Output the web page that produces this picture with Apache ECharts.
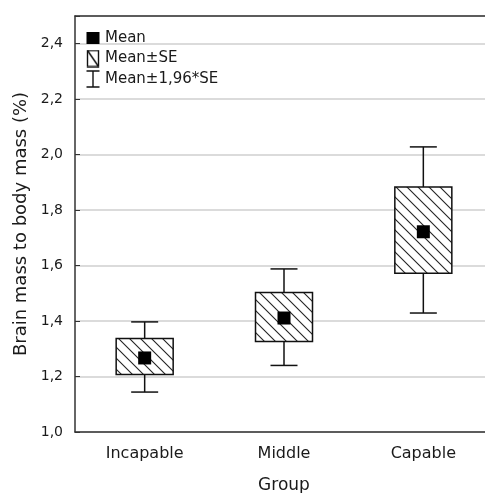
<!DOCTYPE html>
<html>
<head>
<meta charset="utf-8">
<script src="https://cdn.jsdelivr.net/npm/echarts@6/dist/echarts.min.js"></script>
<style>
  html, body { margin: 0; padding: 0; background: #fff; }
  #chart { width: 485px; height: 493px; }
</style>
</head>
<body>
<div id="chart"></div>
<script>
// values
const groups = ['Incapable', 'Middle', 'Capable'];
const means  = [1.267, 1.411, 1.722];
const seLow  = [1.207, 1.326, 1.572];
const seHigh = [1.337, 1.503, 1.883];
const ciLow  = [1.144, 1.240, 1.429];
const ciHigh = [1.397, 1.588, 2.028];
const legendNames = ['Mean', 'Mean±SE', 'Mean±1,96*SE'];

const FONT = 'DejaVu Sans';
const INK = '#1a1a1a';

// hatch pattern "\\\"
function makeHatch() {
  const s = 11;
  const c = document.createElement('canvas');
  c.width = s; c.height = s;
  const g = c.getContext('2d');
  g.fillStyle = '#fff';
  g.fillRect(0, 0, s, s);
  g.strokeStyle = '#222';
  g.lineWidth = 1.1;
  for (let o = -s; o <= s; o += s) {
    g.beginPath();
    g.moveTo(o - 1, -1);
    g.lineTo(o + s + 1, s + 1);
    g.stroke();
  }
  return c;
}
const hatch = makeHatch();

// legend icons
function icon(draw) {
  const c = document.createElement('canvas');
  c.width = 14; c.height = 18;
  const g = c.getContext('2d');
  g.strokeStyle = '#111';
  g.fillStyle = '#000';
  g.lineWidth = 1.4;
  draw(g);
  return 'image://' + c.toDataURL();
}
const iconMean = icon(g => { g.fillRect(0.5, 3, 13, 12); });
const iconSE = icon(g => {
  g.strokeRect(1.5, 1, 11, 16);
  g.beginPath(); g.moveTo(1.5, 1); g.lineTo(12.5, 17); g.stroke();
});
const iconCI = icon(g => {
  g.beginPath();
  g.moveTo(0.5, 1); g.lineTo(13.5, 1);
  g.moveTo(7, 1); g.lineTo(7, 17);
  g.moveTo(0.5, 17); g.lineTo(13.5, 17);
  g.stroke();
});

const chart = echarts.init(document.getElementById('chart'));

const option = {
  animation: false,
  backgroundColor: '#fff',
  grid: { left: 75, top: 16, width: 418, bottom: 61, containLabel: false, outerBoundsMode: 'none' },
  legend: {
    left: 81, top: 24, orient: 'vertical',
    itemWidth: 14, itemHeight: 18, itemGap: 2.5,
    textStyle: { fontFamily: FONT, fontSize: 15, color: INK },
    data: [
      { name: legendNames[0], icon: iconMean },
      { name: legendNames[1], icon: iconSE },
      { name: legendNames[2], icon: iconCI }
    ]
  },
  xAxis: [{
    type: 'category', data: groups, position: 'bottom',
    name: 'Group', nameLocation: 'middle', nameGap: 45,
    nameTextStyle: { fontFamily: FONT, fontSize: 17, color: INK },
    axisLine: { lineStyle: { color: '#333', width: 1.5 } },
    axisTick: { inside: true, alignWithLabel: true, length: 5, lineStyle: { color: '#333' } },
    axisLabel: { fontFamily: FONT, fontSize: 16, color: INK, margin: 14 },
    splitLine: { show: false }
  }, {
    type: 'category', data: groups, position: 'top',
    axisLine: { lineStyle: { color: '#333', width: 1.5 } },
    axisTick: { inside: true, alignWithLabel: true, length: 5, lineStyle: { color: '#333' } },
    axisLabel: { show: false },
    splitLine: { show: false }
  }],
  yAxis: {
    type: 'value', min: 1.0, max: 2.5, interval: 0.2,
    name: 'Brain mass to body mass (%)', nameLocation: 'middle', nameGap: 43,
    nameTextStyle: { fontFamily: FONT, fontSize: 18, color: INK },
    axisLine: { show: true, lineStyle: { color: '#333', width: 1.5 } },
    axisTick: { show: true, inside: true, length: 5, lineStyle: { color: '#333' } },
    axisLabel: {
      fontFamily: FONT, fontSize: 14, color: INK, margin: 12,
      formatter: v => (v > 2.45 ? '' : v.toFixed(1).replace('.', ','))
    },
    splitLine: { show: true, lineStyle: { color: '#cfcfcf', width: 1.5 } }
  },
  series: [
    {
      name: legendNames[2],
      type: 'custom',
      data: groups.map((g, i) => [i, ciLow[i], ciHigh[i], seLow[i], seHigh[i]]),
      renderItem: function (params, api) {
        const i = api.value(0);
        const top = api.coord([i, api.value(2)]);
        const bot = api.coord([i, api.value(1)]);
        const bTop = api.coord([i, api.value(4)]);
        const bBot = api.coord([i, api.value(3)]);
        const x = top[0], cap = 13.5;
        const st = { stroke: '#111', lineWidth: 1.5 };
        return {
          type: 'group',
          children: [
            { type: 'line', shape: { x1: x, y1: top[1], x2: x, y2: bTop[1] }, style: st },
            { type: 'line', shape: { x1: x - cap, y1: top[1], x2: x + cap, y2: top[1] }, style: st },
            { type: 'line', shape: { x1: x, y1: bBot[1], x2: x, y2: bot[1] }, style: st },
            { type: 'line', shape: { x1: x - cap, y1: bot[1], x2: x + cap, y2: bot[1] }, style: st }
          ]
        };
      },
      z: 2
    },
    {
      name: legendNames[1],
      type: 'custom',
      data: groups.map((g, i) => [i, seLow[i], seHigh[i]]),
      renderItem: function (params, api) {
        const i = api.value(0);
        const lo = api.coord([i, api.value(1)]);
        const hi = api.coord([i, api.value(2)]);
        const w = 57;
        return {
          type: 'rect',
          shape: { x: lo[0] - w / 2, y: hi[1], width: w, height: lo[1] - hi[1] },
          style: { fill: { type: 'pattern', image: hatch, repeat: 'repeat' }, stroke: '#111', lineWidth: 1.5 }
        };
      },
      z: 3
    },
    {
      name: legendNames[0],
      type: 'scatter',
      data: groups.map((g, i) => [g, means[i]]),
      symbol: 'rect',
      symbolSize: 13,
      itemStyle: { color: '#000', opacity: 1 },
      z: 4
    }
  ]
};

chart.setOption(option);
</script>
</body>
</html>
